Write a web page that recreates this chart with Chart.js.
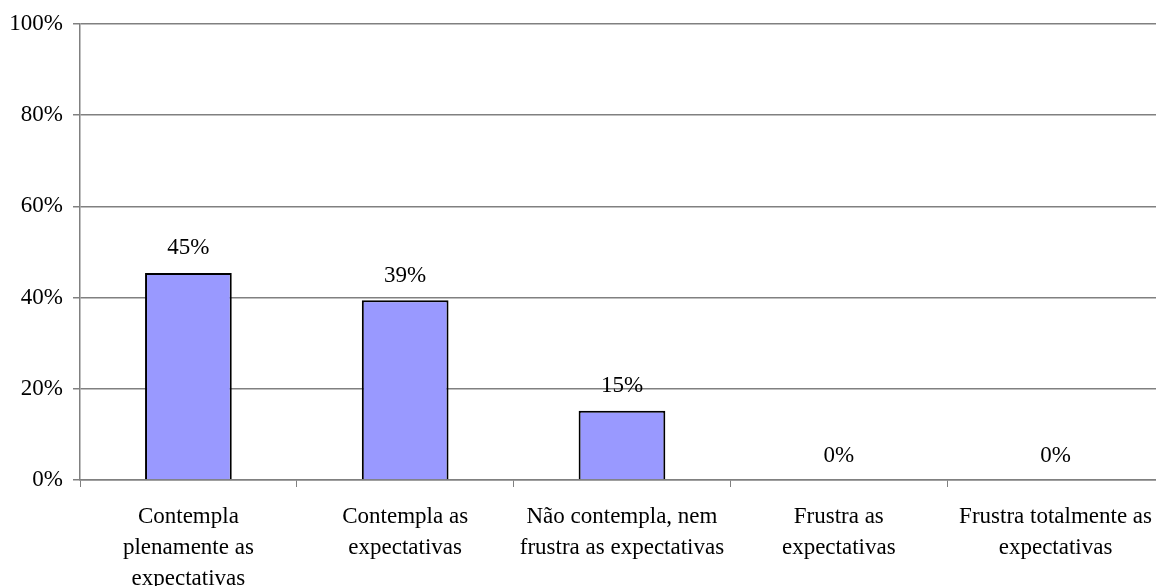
<!DOCTYPE html>
<html>
<head>
<meta charset="utf-8">
<script src="https://cdn.jsdelivr.net/npm/chart.js@4/dist/chart.umd.min.js"></script>
<style>
  html, body { margin: 0; padding: 0; background: #fff; overflow: hidden; }
  #wrap { width: 1166px; height: 586px; }
</style>
</head>
<body>
<div id="wrap"><canvas id="grafico" width="1166" height="586"></canvas></div>
<script>
// Dados
const categorias = [
  ['Contempla', 'plenamente as', 'expectativas'],
  ['Contempla as', 'expectativas'],
  ['Não contempla, nem', 'frustra as expectativas'],
  ['Frustra as', 'expectativas'],
  ['Frustra totalmente as', 'expectativas']
];
const percentuais = [45.4, 39.4, 15.2, 0, 0];
const ticksY = [0, 20, 40, 60, 80, 100];

const fonte = { family: '"Liberation Serif", "Times New Roman", serif', size: 23 };

// Rótulos de valor acima das barras
const rotulosPlugin = {
  id: 'rotulos',
  afterDatasetsDraw(chart) {
    const ctx = chart.ctx;
    const meta = chart.getDatasetMeta(0);
    ctx.save();
    ctx.font = `${fonte.size}px ${fonte.family}`;
    ctx.fillStyle = '#000';
    ctx.textAlign = 'center';
    ctx.textBaseline = 'bottom';
    meta.data.forEach((bar, i) => {
      ctx.fillText(Math.round(percentuais[i]) + '%', bar.x, bar.y - 13);
    });
    ctx.restore();
  }
};

new Chart(document.getElementById('grafico'), {
  type: 'bar',
  data: {
    labels: categorias,
    datasets: [{
      data: percentuais,
      backgroundColor: '#9999FF',
      borderColor: '#000000',
      borderWidth: 2,
      borderSkipped: 'bottom',
      categoryPercentage: 1,
      barPercentage: 0.4
    }]
  },
  options: {
    responsive: false,
    animation: false,
    layout: { padding: { top: 19, left: 0, right: 0, bottom: 0 } },
    plugins: {
      legend: { display: false },
      tooltip: { enabled: false }
    },
    scales: {
      x: {
        grid: { display: true, drawOnChartArea: false, drawTicks: true, tickLength: 7, color: '#808080', offset: true },
        border: { color: '#808080', width: 1.5 },
        ticks: { color: '#000', font: { ...fonte, lineHeight: 1.35 }, maxRotation: 0, autoSkip: false, padding: 14 },
        afterFit(scale) { scale.height = 106; }
      },
      y: {
        min: 0,
        max: 100,
        afterBuildTicks(scale) { scale.ticks = ticksY.map(v => ({ value: v })); },
        grid: { color: '#808080', lineWidth: 1.5, tickLength: 7 },
        border: { color: '#808080', width: 1.5 },
        ticks: { color: '#000', font: fonte, padding: 10, callback: v => v + '%' },
        afterFit(scale) { scale.width = 80; }
      }
    }
  },
  plugins: [rotulosPlugin]
});
</script>
</body>
</html>
